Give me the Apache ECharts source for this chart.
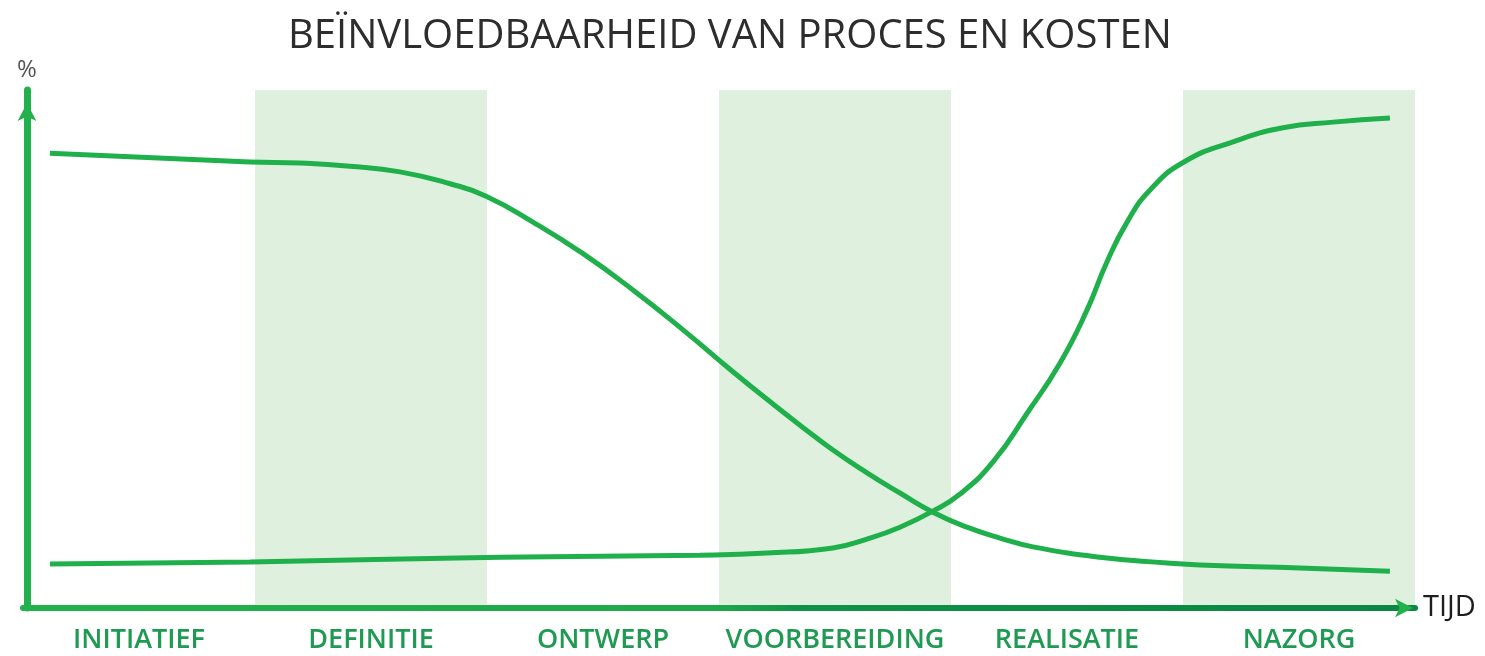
<!DOCTYPE html>
<html>
<head>
<meta charset="utf-8">
<script src="https://cdn.jsdelivr.net/npm/echarts@6/dist/echarts.min.js"></script>
<style>
html,body{margin:0;padding:0;background:#fff;}
#c{width:1485px;height:656px;}
</style>
</head>
<body>
<div id="c"></div>
<script>
const titleText = 'BEÏNVLOEDBAARHEID VAN PROCES EN KOSTEN';
const phases = ['INITIATIEF','DEFINITIE','ONTWERP','VOORBEREIDING','REALISATIE','NAZORG'];
const shadedPhases = [[1,2],[3,4],[5,6]];
const xName = 'TIJD';
const yName = '%';
// influenceability of process (falling curve): [time in phases, %]
const beinvloedbaarheid = [
  [0.116,87.8],[0.978,86.1],[1.194,85.9],[1.409,85.3],[1.625,84.2],[1.841,81.9],
  [1.996,79.5],[2.198,74.5],[2.414,68.4],[2.629,61.4],[2.845,53.7],[3.060,45.6],
  [3.207,40.3],[3.349,35.3],[3.491,30.5],[3.638,26.1],[3.780,22.2],[3.922,18.5],
  [4.069,15.6],[4.211,13.5],[4.353,11.8],[4.642,9.8],[4.931,8.7],[5.073,8.3],
  [5.504,7.7],[5.892,7.1]
];
// costs (rising curve)
const kosten = [
  [0.116,8.5],[0.978,8.9],[2.056,9.8],[2.918,10.2],[3.207,10.6],[3.491,11.6],
  [3.638,13.3],[3.780,15.6],[3.922,18.7],[4.039,22.0],[4.181,28.2],[4.328,37.6],
  [4.470,47.3],[4.586,57.5],[4.672,66.8],[4.759,74.5],[4.858,80.7],[5.004,86.1],
  [5.216,90.0],[5.431,92.7],[5.647,93.8],[5.892,94.6]
];

const chart = echarts.init(document.getElementById('c'));
const green = '#1fb04b';
chart.setOption({
  animation:false,
  backgroundColor:'#ffffff',
  title:{
    text:titleText, left:283, top:12,
    textStyle:{fontFamily:'Open Sans', fontSize:40, fontWeight:'normal', color:'#2d2d2d'}
  },
  grid:{left:23, right:70, top:90, bottom:48, containLabel:false},
  xAxis:[{
    type:'value', min:0, max:6, position:'bottom', z:5,
    name:xName, nameLocation:'end', nameGap:8,
    nameTextStyle:{fontFamily:'Open Sans', fontSize:29, color:'#1e1e1e'},
    axisLine:{show:true, onZero:false, symbol:['none','arrow'], symbolSize:[14,18], symbolOffset:[0,-2],
      lineStyle:{width:6, color:new echarts.graphic.LinearGradient(23,0,1415,0,[
        {offset:0,color:'#22b14c'},{offset:0.5,color:'#1ea84a'},{offset:0.56,color:'#0f9146'},{offset:1,color:'#0a8744'}], true)}},
    axisTick:{show:false}, axisLabel:{show:false}, splitLine:{show:false}
  },{
    type:'category', data:phases, position:'bottom', boundaryGap:true,
    axisLine:{show:false}, axisTick:{show:false}, splitLine:{show:false},
    axisLabel:{interval:0, margin:19, fontFamily:'Open Sans', fontSize:27, fontWeight:600, color:'#1f9a52'}
  }],
  yAxis:{
    type:'value', min:0, max:100, offset:-4, z:5,
    name:yName, nameLocation:'end', nameGap:8,
    nameTextStyle:{fontFamily:'Open Sans', fontSize:24, color:'#555', align:'center'},
    axisLine:{show:true, onZero:false, symbol:['none','arrow'], symbolSize:[14,18], symbolOffset:[0,-13],
      lineStyle:{width:7, color:'#22b14c'}},
    axisTick:{show:false}, axisLabel:{show:false}, splitLine:{show:false}
  },
  series:[{
    name:'Beïnvloedbaarheid', type:'line', smooth:0.5, showSymbol:false, data:beinvloedbaarheid,
    lineStyle:{width:5, color:green}, itemStyle:{color:green}, z:3,
    markArea:{silent:true, itemStyle:{color:'#dff0de'},
      data:shadedPhases.map(p=>[{xAxis:p[0]},{xAxis:p[1]}])}
  },{
    name:'Kosten', type:'line', smooth:0.5, showSymbol:false, data:kosten,
    lineStyle:{width:5, color:green}, itemStyle:{color:green}, z:3
  }]
});
</script>
</body>
</html>
